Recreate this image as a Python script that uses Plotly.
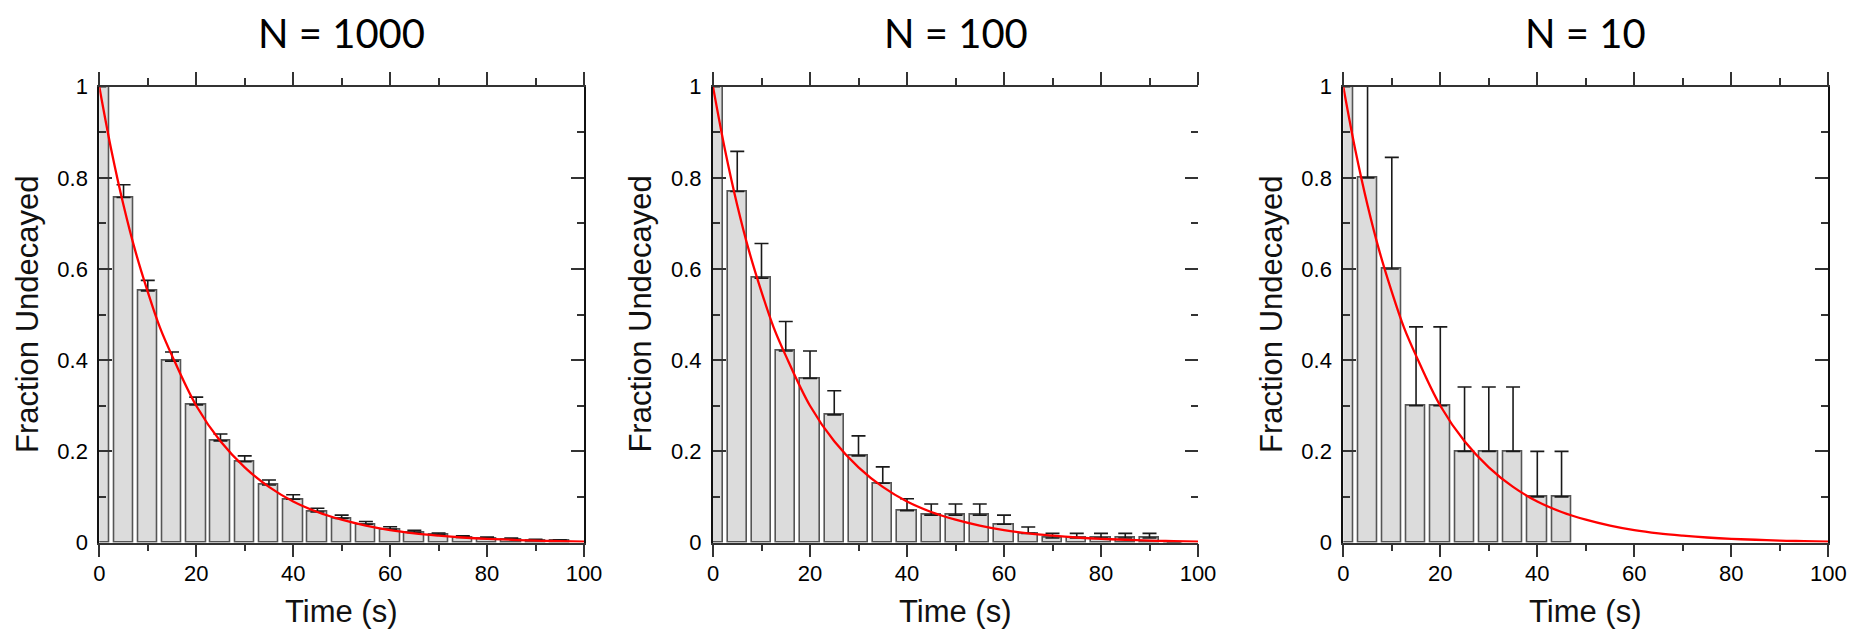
import plotly.graph_objects as go

# ---------------- data ----------------
time_bins = [0, 5, 10, 15, 20, 25, 30, 35, 40, 45, 50, 55, 60, 65, 70, 75, 80, 85, 90, 95]

frac_n1000 = [1.0, 0.757, 0.552, 0.398, 0.302, 0.223, 0.177, 0.126, 0.095, 0.067,
              0.053, 0.040, 0.029, 0.022, 0.017, 0.011, 0.009, 0.007, 0.005, 0.004]
err_n1000 = [0.032, 0.028, 0.023, 0.020, 0.017, 0.015, 0.013, 0.011, 0.0097, 0.008,
             0.007, 0.006, 0.0055, 0.0047, 0.004, 0.0035, 0.003, 0.0027, 0.0022, 0.002]

frac_n100 = [1.0, 0.77, 0.58, 0.42, 0.36, 0.28, 0.19, 0.13, 0.07, 0.06,
             0.06, 0.06, 0.04, 0.02, 0.01, 0.01, 0.01, 0.01, 0.01, 0.0]
err_n100 = [0.10, 0.088, 0.076, 0.065, 0.06, 0.053, 0.044, 0.036, 0.026, 0.0245,
            0.0245, 0.0245, 0.02, 0.014, 0.01, 0.01, 0.01, 0.01, 0.01, 0.0]

time_n10 = [0, 5, 10, 15, 20, 25, 30, 35, 40, 45]
frac_n10 = [1.0, 0.8, 0.6, 0.3, 0.3, 0.2, 0.2, 0.2, 0.1, 0.1]
err_n10 = [0.32, 0.28, 0.245, 0.173, 0.173, 0.141, 0.141, 0.141, 0.1, 0.1]

# red theoretical decay curve
curve_t = [0, 2.5, 5, 7.5, 10, 12.5, 15, 20, 25, 30, 35, 40, 45, 50, 55, 60, 65, 70, 75, 80, 85, 90, 95, 100]
curve_y = [1.0, 0.86, 0.74, 0.637, 0.55, 0.472, 0.41, 0.30, 0.222, 0.165, 0.122, 0.09, 0.067, 0.05,
           0.037, 0.027, 0.02, 0.015, 0.011, 0.008, 0.006, 0.004, 0.003, 0.002]

panel_titles = ["N = 1000", "N = 100", "N = 10"]
x_title = "Time (s)"
y_title = "Fraction Undecayed"
x_tickvals = [0, 20, 40, 60, 80, 100]
x_ticktext = ["0", "20", "40", "60", "80", "100"]
x_minor = [10, 30, 50, 70, 90]
y_tickvals = [0, 0.2, 0.4, 0.6, 0.8, 1.0]
y_ticktext = ["0", "0.2", "0.4", "0.6", "0.8", "1"]
y_minor = [0.1, 0.3, 0.5, 0.7, 0.9]

panels = [
    (time_bins, frac_n1000, err_n1000),
    (time_bins, frac_n100, err_n100),
    (time_n10, frac_n10, err_n10),
]

# ---------------- layout geometry ----------------
# positions measured on the screen; the page body adds an 8 px offset
W, H = 1864, 631
OFF = 8
x_px = [(99.3, 584.0), (713.0, 1198.0), (1343.3, 1828.3)]
y_top_px, y_bot_px = 86.7, 542.5

def px_x(p):
    return (p - OFF) / W

def px_y(p):
    return (H - (p - OFF)) / H

fig = go.Figure()

TICKFONT = dict(family="Liberation Sans, Arial, sans-serif", size=22, color="#000")
LINEC = "#333"

for i, (tx, fy, ey) in enumerate(panels):
    n = "" if i == 0 else str(i + 1)
    xa, ya = "x" + n, "y" + n
    fig.add_trace(go.Bar(
        x=tx, y=fy, width=4, xaxis=xa, yaxis=ya,
        marker=dict(color="#dcdcdc", line=dict(color="#555", width=1.6)),
        error_y=dict(type="data", symmetric=False, array=ey, arrayminus=[0] * len(ey),
                     color="#1a1a1a", thickness=1.6, width=7),
        showlegend=False,
    ))
    fig.add_trace(go.Scatter(
        x=curve_t, y=curve_y, mode="lines", xaxis=xa, yaxis=ya,
        line=dict(color="#ff0000", width=2.3, shape="spline", smoothing=1.0),
        showlegend=False,
    ))
    x0, x1 = x_px[i]
    fig.layout["xaxis" + n] = dict(
        domain=[px_x(x0), px_x(x1)], anchor=ya, range=[0, 100], automargin=False,
        showgrid=False, zeroline=False, showline=True, linecolor=LINEC, linewidth=1.5,
        mirror="ticks", ticks="outside", ticklen=13, tickwidth=1.5, tickcolor=LINEC,
        tickvals=x_tickvals, ticktext=x_ticktext, tickfont=TICKFONT,
        minor=dict(ticks="outside", ticklen=7, tickwidth=1.5, tickcolor=LINEC,
                   tickvals=x_minor, showgrid=False),
        ticklabelstandoff=-3,
    )
    fig.layout["yaxis" + n] = dict(
        domain=[px_y(y_bot_px), px_y(y_top_px)], anchor=xa, range=[0, 1], automargin=False,
        showgrid=False, zeroline=False, showline=True, linecolor="#111", linewidth=2,
        mirror=("ticks" if i != 1 else False), ticks="inside", ticklen=13, tickwidth=1.5,
        tickcolor=LINEC, tickvals=y_tickvals, ticktext=y_ticktext, tickfont=TICKFONT,
        minor=dict(ticks="inside", ticklen=7, tickwidth=1.5, tickcolor=LINEC,
                   tickvals=y_minor, showgrid=False),
        ticklabelstandoff=5,
    )

    cx = (x0 + x1) / 2
    fig.add_annotation(text=panel_titles[i], x=px_x(cx), y=1.0, xref="paper", yref="paper",
                       showarrow=False, xanchor="center", yanchor="top", borderpad=0,
                       font=dict(family="Lato, Carlito, sans-serif", size=40, color="#000"))
    fig.add_annotation(text=x_title, x=px_x(cx), y=px_y(611), xref="paper", yref="paper",
                       showarrow=False, xanchor="center", yanchor="middle",
                       font=dict(family="Liberation Sans, Arial, sans-serif", size=31, color="#111"))
    fig.add_annotation(text=y_title, x=px_x(x0 - 72), y=px_y((y_top_px + y_bot_px) / 2),
                       xref="paper", yref="paper", textangle=-90,
                       showarrow=False, xanchor="center", yanchor="middle",
                       font=dict(family="Liberation Sans, Arial, sans-serif", size=31, color="#111"))

# panel 2: right-side ticks without a right spine
fig.layout["yaxis4"] = dict(
    domain=[px_y(y_bot_px), px_y(y_top_px)], anchor="x2", overlaying="y2", side="right",
    range=[0, 1], showgrid=False, zeroline=False, showline=False, automargin=False,
    ticks="inside", ticklen=13, tickwidth=1.5, tickcolor=LINEC,
    tickvals=y_tickvals, showticklabels=False,
    minor=dict(ticks="inside", ticklen=7, tickwidth=1.5, tickcolor=LINEC,
               tickvals=y_minor, showgrid=False),
)
# an invisible trace so the overlay axis is drawn
fig.add_trace(go.Scatter(x=[0], y=[0], xaxis="x2", yaxis="y4", mode="markers",
                         marker=dict(opacity=0), showlegend=False, hoverinfo="skip"))

fig.update_layout(
    width=W, height=H, margin=dict(l=0, r=0, t=0, b=0, autoexpand=False),
    paper_bgcolor="white", plot_bgcolor="white", bargap=0,
)

fig.write_html("out.html")
